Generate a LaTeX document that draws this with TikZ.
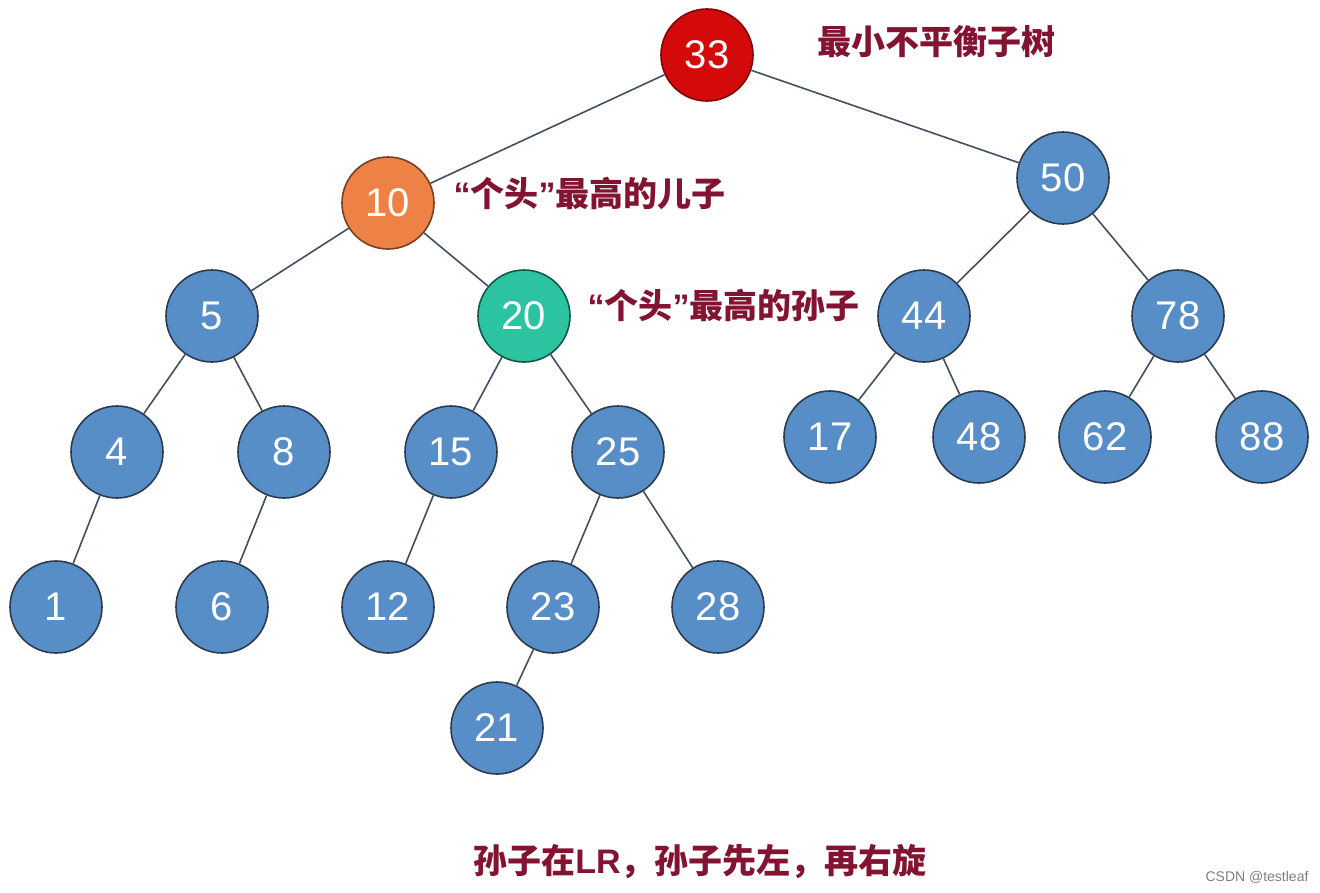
\documentclass[tikz,border=0pt]{standalone}
\usepackage{fontspec}
\setmainfont{Liberation Sans}
\newfontfamily\cjk{Noto Sans CJK SC}
\usetikzlibrary{calc}
\definecolor{treeblue}{RGB}{88,142,200}
\definecolor{treeline}{RGB}{45,60,78}
\definecolor{rootred}{RGB}{212,10,10}
\definecolor{sonorange}{RGB}{238,130,70}
\definecolor{grandteal}{RGB}{44,196,160}
\definecolor{notered}{RGB}{130,20,50}
\newcommand{\openq}{{\rmfamily “}}
\newcommand{\closeq}{{\rmfamily ”}}
\tikzset{
 branch/.style={draw=treeline!90,line width=1.6pt},
 treenode/.style={circle,draw=treeline,line width=1.6pt,fill=treeblue,minimum size=92pt,inner sep=0,text=white,font=\fontsize{40}{42}\selectfont},
 rootnode/.style={treenode,fill=rootred,draw=rootred!60!black},
 sonnode/.style={treenode,fill=sonorange,draw=sonorange!50!black},
 grandnode/.style={treenode,fill=grandteal,draw=grandteal!45!black},
 note/.style={text=notered,font=\cjk\bfseries\fontsize{34}{36}\selectfont,anchor=west}
}
\begin{document}
\begin{tikzpicture}[x=1pt,y=-1pt]
\path[use as bounding box,fill=white] (0,0) rectangle (1320,892);
% upper levels
\node[rootnode] (n33) at (707,55) {33};
\node[sonnode] (n10) at (388,203) {10};
\node[treenode] (n50) at (1063,178) {50};
\node[treenode] (n5) at (212,316) {5};
\node[grandnode] (n20) at (524,316) {20};
\node[treenode] (n44) at (924,316) {44};
\node[treenode] (n78) at (1178,316) {78};
% third level
\node[treenode] (n4) at (117,452) {4};
\node[treenode] (n8) at (284,452) {8};
\node[treenode] (n15) at (451,452) {15};
\node[treenode] (n25) at (618,452) {25};
\node[treenode] (n17) at (830,437) {17};
\node[treenode] (n48) at (979,437) {48};
\node[treenode] (n62) at (1105,437) {62};
\node[treenode] (n88) at (1262,437) {88};
% leaves
\node[treenode] (n1) at (56,607) {1};
\node[treenode] (n6) at (222,607) {6};
\node[treenode] (n12) at (388,607) {12};
\node[treenode] (n23) at (553,607) {23};
\node[treenode] (n28) at (718,607) {28};
\node[treenode] (n21) at (497,728) {21};
% branches
\foreach \p/\c in {33/10,33/50,10/5,10/20,50/44,50/78,5/4,5/8,20/15,20/25,44/17,44/48,78/62,78/88,4/1,8/6,15/12,25/23,25/28,23/21}
  \draw[branch] (n\p) -- (n\c);
% notes
\node[note] (lbl33) at (814,42) {最小不平衡子树};
\node[note] (lbl10) at (450,193) {\openq 个头\closeq 最高的儿子};
\node[note] (lbl20) at (584,305) {\openq 个头\closeq 最高的孙子};
\node[note,anchor=center] (lblrule) at (700,862) {孙子在{\rmfamily\bfseries LR}，孙子先左，再右旋};
\node[text=gray,font=\fontsize{14}{16}\selectfont,anchor=east] (mark) at (1312,877) {CSDN @testleaf};
\end{tikzpicture}
\end{document}
